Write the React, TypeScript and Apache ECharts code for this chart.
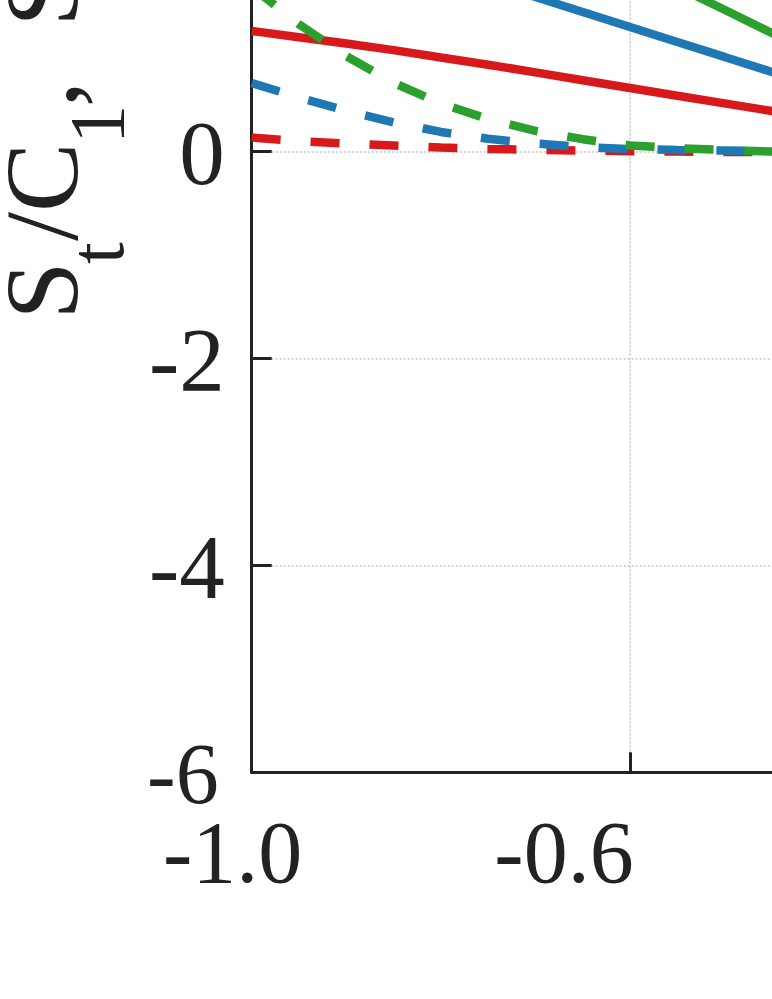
import React, { useEffect, useRef } from 'react';
import * as echarts from 'echarts';

// ---- data ----
const xValues = [-1.0, -0.95, -0.9, -0.85, -0.8, -0.75, -0.7, -0.65, -0.6, -0.55, -0.5, -0.45, -0.4];
const redSolid = [1.165, 1.104, 1.043, 0.98, 0.909, 0.839, 0.765, 0.689, 0.614, 0.539, 0.465, 0.391, 0.317];
const blueSolid = [2.361, 2.216, 2.072, 1.927, 1.782, 1.637, 1.493, 1.348, 1.203, 1.058, 0.914, 0.769, 0.624];
const greenSolid = [3.61, 3.39, 3.16, 2.94, 2.71, 2.49, 2.265, 2.04, 1.82, 1.59, 1.37, 1.145, 0.92];
const redDashed = [0.135, 0.101, 0.077, 0.058, 0.039, 0.024, 0.017, 0.009, 0.003, 0.0, -0.004, -0.005, -0.005];
const blueDashed = [0.662, 0.522, 0.393, 0.282, 0.189, 0.123, 0.077, 0.044, 0.024, 0.014, 0.01, 0.006, 0.005];
const greenDashed = [1.59, 1.229, 0.922, 0.664, 0.465, 0.313, 0.199, 0.119, 0.059, 0.033, 0.014, 0.0, -0.004];

const xTickLabels = ['-1.0', '-0.6'];
const yTickLabels = ['0', '-2', '-4', '-6'];

const RED = '#d7191c';
const BLUE = '#1f77b4';
const GREEN = '#2ca02c';
const FONT = 'Liberation Serif';

const W = 1300;
const H = 1300;
const SHIFT = 300;

const pairs = (ys: number[]) => xValues.map((x, i) => [x, ys[i]]);

export default function App() {
  const ref = useRef<HTMLDivElement>(null);
  useEffect(() => {
    if (!ref.current) return;
    const chart = echarts.init(ref.current, null, { renderer: 'svg' });

    const line = (name: string, ys: number[], color: string, dashed: boolean) => ({
      name,
      type: 'line',
      data: pairs(ys),
      showSymbol: false,
      symbol: 'none',
      lineStyle: {
        color,
        width: 8.5,
        type: dashed ? [29, 30] : 'solid',
        cap: 'butt',
      },
      z: dashed ? 3 : 2,
    });

    const mainT = { fontSize: 104, fontFamily: FONT, fill: '#222', align: 'left', verticalAlign: 'middle', textAlign: 'left', textVerticalAlign: 'middle' };
    const subT = { fontSize: 78, fontFamily: FONT, fill: '#222', align: 'left', verticalAlign: 'middle', textAlign: 'left', textVerticalAlign: 'middle' };

    chart.setOption({
      animation: false,
      backgroundColor: '#ffffff',
      grid: { left: 251.7, right: W - 1197.45, top: 37.62, bottom: H - 1072.32, containLabel: false },
      xAxis: {
        type: 'value',
        min: -1.0,
        max: 0,
        interval: 0.4,
        axisLine: { show: true, onZero: false, lineStyle: { color: '#222', width: 3 } },
        axisTick: { show: true, inside: true, length: 20, lineStyle: { color: '#222', width: 3 } },
        axisLabel: {
          margin: 45,
          fontFamily: FONT,
          fontSize: 88,
          formatter: (v: number) => {
            if (Math.abs(v + 1.0) < 1e-6) return '{a|' + xTickLabels[0] + '}';
            if (Math.abs(v + 0.6) < 1e-6) return '{b|' + xTickLabels[1] + '}';
            return '';
          },
          rich: {
            a: { fontSize: 88, fontFamily: FONT, color: '#222', lineHeight: 70, padding: [0, 38, 0, 0] },
            b: { fontSize: 88, fontFamily: FONT, color: '#222', lineHeight: 70, padding: [0, 132, 0, 0] },
          },
        },
        splitLine: { show: true, lineStyle: { color: '#c4c4c4', width: 1.5, type: [2, 2] } },
      },
      yAxis: {
        type: 'value',
        min: -6,
        max: 4,
        interval: 2,
        axisLine: { show: true, onZero: false, lineStyle: { color: '#222', width: 3 } },
        axisTick: { show: true, inside: true, length: 20, lineStyle: { color: '#222', width: 3 } },
        axisLabel: {
          margin: 27,
          fontFamily: FONT,
          fontSize: 91,
          formatter: (v: number) => {
            const s = String(Math.round(v));
            if (!yTickLabels.includes(s)) return '';
            return s === '-6' ? '{m|' + s + '}' : '{n|' + s + '}';
          },
          rich: {
            n: { fontSize: 91, fontFamily: FONT, color: '#222', lineHeight: 70, padding: [4, 0, 0, 0] },
            m: { fontSize: 86, fontFamily: FONT, color: '#222', lineHeight: 70, padding: [4, 6, 0, 0] },
          },
        },
        splitLine: { show: true, lineStyle: { color: '#c4c4c4', width: 1.5, type: [2, 2] } },
      },
      graphic: [
        {
          type: 'group',
          x: 77,
          y: 319.4 + SHIFT,
          rotation: Math.PI / 2,
          children: [
            { type: 'text', x: 0, y: -35.1, style: { ...mainT, text: 'S' } },
            { type: 'text', x: 55.4, y: 19.7, style: { ...subT, text: 't' } },
            { type: 'text', x: 78.4, y: -35.1, style: { ...mainT, text: '/C' } },
            { type: 'text', x: 175.7, y: 19.7, style: { ...subT, text: '1' } },
            { type: 'text', x: 212.1, y: -35.1, style: { ...mainT, text: ',' } },
            { type: 'text', x: 293, y: -35.1, style: { ...mainT, text: 'S' } },
          ],
        },
      ],
      series: [
        line('red solid', redSolid, RED, false),
        line('blue solid', blueSolid, BLUE, false),
        line('green solid', greenSolid, GREEN, false),
        line('red dashed', redDashed, RED, true),
        line('blue dashed', blueDashed, BLUE, true),
        line('green dashed', greenDashed, GREEN, true),
      ],
    });
    return () => chart.dispose();
  }, []);

  return (
    <div
      ref={ref}
      style={{ position: 'fixed', left: 0, top: -SHIFT, width: W, height: H, background: '#fff' }}
    />
  );
}
